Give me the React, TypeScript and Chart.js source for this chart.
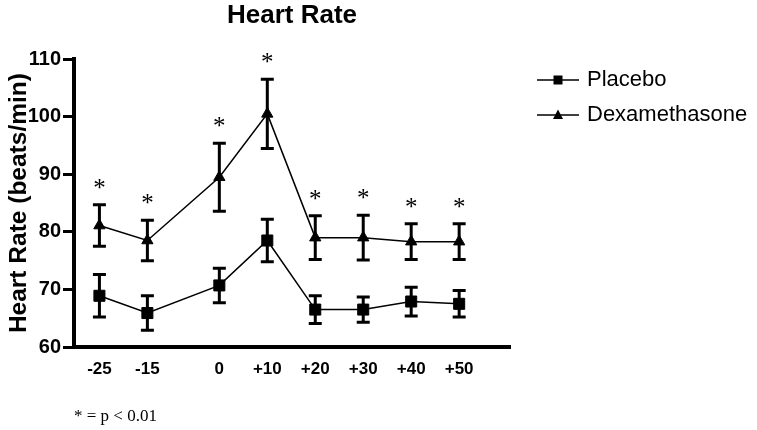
import React, { useEffect, useRef } from "react";
import { Chart, registerables } from "chart.js";

Chart.register(...registerables);

// ---- data ----
const timePoints = [-25, -15, 0, 10, 20, 30, 40, 50];
const xTickLabels = ["-25", "-15", "0", "+10", "+20", "+30", "+40", "+50"];
const placeboMean = [68.9, 65.9, 70.7, 78.5, 66.5, 66.5, 67.9, 67.5];
const placeboSem = [3.7, 3.0, 3.0, 3.7, 2.4, 2.2, 2.5, 2.3];
const dexMean = [81.1, 78.5, 89.5, 100.5, 79.0, 79.0, 78.3, 78.3];
const dexSem = [3.6, 3.5, 5.9, 6.0, 3.8, 3.9, 3.1, 3.1];
const significant = [true, true, true, true, true, true, true, true];
const yTicks = [60, 70, 80, 90, 100, 110];
const seriesLabels = ["Placebo", "Dexamethasone"];

const SANS = "'Liberation Sans', Arial, sans-serif";
const SERIF = "'Liberation Serif', 'Times New Roman', serif";

function makeLegendIcon(style: "rect" | "triangle"): HTMLCanvasElement {
  const c = document.createElement("canvas");
  c.width = 59;
  c.height = 16;
  const ctx = c.getContext("2d")!;
  ctx.strokeStyle = "#000";
  ctx.fillStyle = "#000";
  ctx.lineWidth = 1.5;
  ctx.beginPath();
  ctx.moveTo(17, 8);
  ctx.lineTo(59, 8);
  ctx.stroke();
  const cx = 38;
  const cy = 8;
  ctx.beginPath();
  if (style === "rect") {
    ctx.rect(cx - 4.5, cy - 4.5, 9, 9);
  } else {
    ctx.moveTo(cx, cy - 5.5);
    ctx.lineTo(cx + 5, cy + 4);
    ctx.lineTo(cx - 5, cy + 4);
    ctx.closePath();
  }
  ctx.fill();
  return c;
}

const errorBarPlugin = {
  id: "errorBars",
  beforeDatasetsDraw(chart: any) {
    const { ctx } = chart;
    const x = chart.scales.x;
    const y = chart.scales.y;
    ctx.save();
    ctx.strokeStyle = "#000";
    ctx.lineWidth = 3;
    const series: [number[], number[]][] = [
      [placeboMean, placeboSem],
      [dexMean, dexSem],
    ];
    series.forEach(([m, s]) => {
      timePoints.forEach((t, i) => {
        const px = x.getPixelForValue(t);
        const top = y.getPixelForValue(m[i] + s[i]);
        const bot = y.getPixelForValue(m[i] - s[i]);
        ctx.beginPath();
        ctx.moveTo(px, top);
        ctx.lineTo(px, bot);
        ctx.moveTo(px - 6.5, top);
        ctx.lineTo(px + 6.5, top);
        ctx.moveTo(px - 6.5, bot);
        ctx.lineTo(px + 6.5, bot);
        ctx.stroke();
      });
    });
    ctx.restore();
  },
  afterDatasetsDraw(chart: any) {
    const { ctx } = chart;
    const x = chart.scales.x;
    const y = chart.scales.y;
    ctx.save();
    ctx.fillStyle = "#000";
    ctx.font = `25px ${SERIF}`;
    ctx.textAlign = "center";
    ctx.textBaseline = "alphabetic";
    timePoints.forEach((t, i) => {
      if (!significant[i]) return;
      const px = x.getPixelForValue(t);
      const top = y.getPixelForValue(dexMean[i] + dexSem[i]);
      ctx.fillText("*", px, top - 9);
    });
    ctx.restore();
  },
};

export default function App() {
  const ref = useRef<HTMLCanvasElement | null>(null);

  useEffect(() => {
    if (!ref.current) return;
    Chart.defaults.color = "#000";
    Chart.defaults.font.family = SANS;
    const icons = [makeLegendIcon("rect"), makeLegendIcon("triangle")];

    const chart = new Chart(ref.current, {
      type: "line",
      data: {
        datasets: [
          {
            label: seriesLabels[0],
            data: timePoints.map((t, i) => ({ x: t, y: placeboMean[i] })),
            borderColor: "#000",
            backgroundColor: "#000",
            borderWidth: 1.5,
            pointStyle: "rect",
            pointRadius: 7.8,
            pointBackgroundColor: "#000",
            pointBorderColor: "#000",
            pointBorderWidth: 1,
            tension: 0,
          },
          {
            label: seriesLabels[1],
            data: timePoints.map((t, i) => ({ x: t, y: dexMean[i] })),
            borderColor: "#000",
            backgroundColor: "#000",
            borderWidth: 1.5,
            pointStyle: "triangle",
            pointRadius: 6.5,
            pointBackgroundColor: "#000",
            pointBorderColor: "#000",
            pointBorderWidth: 1,
            tension: 0,
          },
        ],
      },
      options: {
        responsive: false,
        animation: false,
        events: [],
        layout: { padding: 0 },
        plugins: {
          tooltip: { enabled: false },
          title: {
            display: true,
            text: "Heart Rate",
            fullSize: false,
            color: "#000",
            font: { family: SANS, size: 26, weight: "bold", lineHeight: 1.2 },
            padding: { top: 0, bottom: 28 },
          },
          legend: {
            display: true,
            position: "right",
            align: "start",
            maxWidth: 247,
            title: {
              display: true,
              text: "",
              font: { size: 1, lineHeight: 1 },
              padding: { top: 55, bottom: 0 },
            },
            labels: {
              usePointStyle: true,
              pointStyleWidth: 53,
              padding: 13,
              color: "#000",
              font: { family: SANS, size: 22 },
              generateLabels: (ch: any) =>
                ch.data.datasets.map((ds: any, i: number) => ({
                  text: ds.label,
                  pointStyle: icons[i],
                  fillStyle: "#000",
                  strokeStyle: "#000",
                  lineWidth: 0,
                  hidden: false,
                  datasetIndex: i,
                  fontColor: "#000",
                })),
            },
          },
        },
        scales: {
          x: {
            type: "linear",
            min: -30.3,
            max: 60.6,
            afterBuildTicks: (scale: any) => {
              scale.ticks = timePoints.map((v) => ({ value: v }));
            },
            afterFit: (scale: any) => {
              scale.height = 83;
            },
            ticks: {
              autoSkip: false,
              maxRotation: 0,
              padding: 12,
              color: "#000",
              font: { family: SANS, size: 17, weight: "bold" },
              callback: (_v: any, i: number) => xTickLabels[i],
            },
            grid: { display: false, drawTicks: false },
            border: { display: true, width: 4, color: "#000" },
            title: {
              display: true,
              text: "* = p < 0.01",
              align: "start",
              color: "#000",
              font: { family: SERIF, size: 17, lineHeight: 1.2 },
              padding: { top: 0, bottom: 2.8 },
            },
          },
          y: {
            type: "linear",
            min: 60,
            max: 110,
            afterBuildTicks: (scale: any) => {
              scale.ticks = yTicks.map((v) => ({ value: v }));
            },
            afterFit: (scale: any) => {
              scale.width = 74;
            },
            ticks: {
              padding: 2,
              color: "#000",
              font: { family: SANS, size: 20, weight: "bold" },
            },
            grid: {
              display: true,
              drawOnChartArea: false,
              drawTicks: true,
              tickLength: 11,
              lineWidth: 3,
              color: "#000",
            },
            border: { display: true, width: 4, color: "#000" },
            title: {
              display: true,
              text: "Heart Rate (beats/min)",
              color: "#000",
              font: { family: SANS, size: 24.5, weight: "bold", lineHeight: 1.2 },
              padding: { top: 4.3, bottom: 0 },
            },
          },
        },
      },
      plugins: [errorBarPlugin],
    } as any);

    return () => chart.destroy();
  }, []);

  return (
    <div style={{ position: "fixed", left: 0, top: 0, width: 757, height: 430, background: "#fff" }}>
      <canvas ref={ref} width={757} height={430} style={{ width: 757, height: 430, display: "block" }} />
    </div>
  );
}
